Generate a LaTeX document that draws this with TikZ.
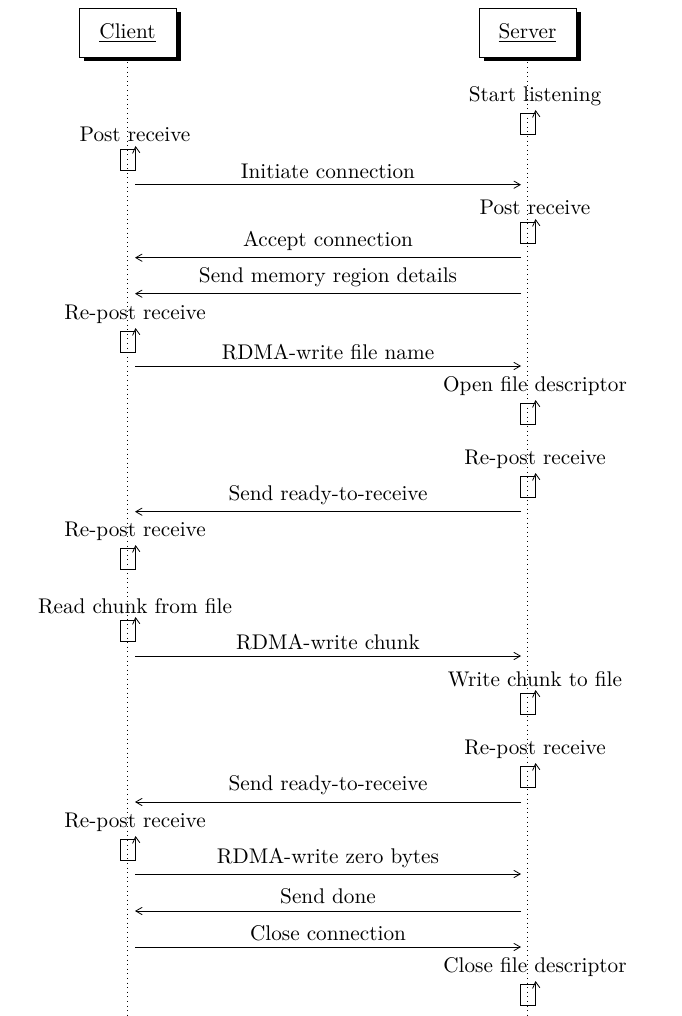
\documentclass[tikz,border=0pt]{standalone}
\usetikzlibrary{arrows}
\tikzset{
  every node/.style={font=\fontsize{10.62pt}{12pt}\selectfont},
  actor/.style={draw,fill=white,minimum width=48.5pt,minimum height=24.5pt,inner sep=0pt,line width=0.4pt},
  shade/.style={fill=black,minimum width=48.5pt,minimum height=24.5pt,inner sep=0pt},
  life/.style={dotted,line width=0.3pt},
  activity/.style={draw,minimum width=7.5pt,minimum height=10.6pt,inner sep=0pt,line width=0.4pt,anchor=north west},
  msg/.style={->,>=angle 60,line width=0.4pt},
  selfarrow/.style={->,>=angle 60,line width=0.4pt},
  lab/.style={inner sep=0pt,anchor=base},
}
\newcommand{\act}[3]{% name, x, top
  \node[activity] (#1) at (#2,#3) {};
  \coordinate (#1t) at (#2+15.5,#3-3);
  \draw[selfarrow] (#1.north east) -- (#1t);
}
\newcommand{\msgr}[4]{% name, y, label baseline, label
  \coordinate (#1a) at (135,#2);
  \coordinate (#1b) at (521,#2);
  \draw[msg] (#1a) -- (#1b);
  \node[lab] (#1l) at (328,#3) {#4};
}
\newcommand{\msgl}[4]{%
  \coordinate (#1a) at (521,#2);
  \coordinate (#1b) at (135,#2);
  \draw[msg] (#1a) -- (#1b);
  \node[lab] (#1l) at (328,#3) {#4};
}
\begin{document}
\begin{tikzpicture}[x=0.5pt,y=-0.5pt]
\useasboundingbox (0,0) rectangle (681,1016);
% lifelines
\coordinate (cend) at (127.5,1016);
\coordinate (send) at (527.5,1016);
\node[shade] (cs) at (132.5,37) {};
\node[shade] (ss) at (532.5,37) {};
\node[actor] (client) at (127.5,33) {\underline{Client}};
\node[actor] (server) at (527.5,33) {\underline{Server}};
\draw[life] (client.south) -- (cend);
\draw[life] (server.south) -- (send);
% activities and their labels
\node[lab] (l1) at (535,101.5) {Start listening};
\act{a1}{520}{113}
\node[lab] (l2) at (135,141.5) {Post receive};
\act{a2}{120}{149}
\msgr{m1}{184.7}{178.5}{Initiate connection}
\node[lab] (l3) at (535,214) {Post receive};
\act{a3}{520}{222}
\msgl{m2}{257.7}{246.5}{Accept connection}
\msgl{m3}{293.7}{282.5}{Send memory region details}
\node[lab] (l4) at (135,319) {Re-post receive};
\act{a4}{120}{331}
\msgr{m4}{366}{359.5}{RDMA-write file name}
\node[lab] (l5) at (535,391) {Open file descriptor};
\act{a5}{520}{403}
\node[lab] (l6) at (535,464) {Re-post receive};
\act{a6}{520}{476}
\msgl{m5}{511.7}{500.5}{Send ready-to-receive}
\node[lab] (l7) at (135,536) {Re-post receive};
\act{a7}{120}{548}
\node[lab] (l8) at (135,613) {Read chunk from file};
\act{a8}{120}{620}
\msgr{m6}{656}{649.5}{RDMA-write chunk}
\node[lab] (l9) at (535,686) {Write chunk to file};
\act{a9}{520}{693}
\node[lab] (l10) at (535,754.5) {Re-post receive};
\act{a10}{520}{766}
\msgl{m7}{802}{790.5}{Send ready-to-receive}
\node[lab] (l11) at (135,827) {Re-post receive};
\act{a11}{120}{839}
\msgr{m8}{874}{863.5}{RDMA-write zero bytes}
\msgl{m9}{911}{903.5}{Send done}
\msgr{m10}{947}{940.5}{Close connection}
\node[lab] (l12) at (535,972) {Close file descriptor};
\act{a12}{520}{984}
\end{tikzpicture}
\end{document}
